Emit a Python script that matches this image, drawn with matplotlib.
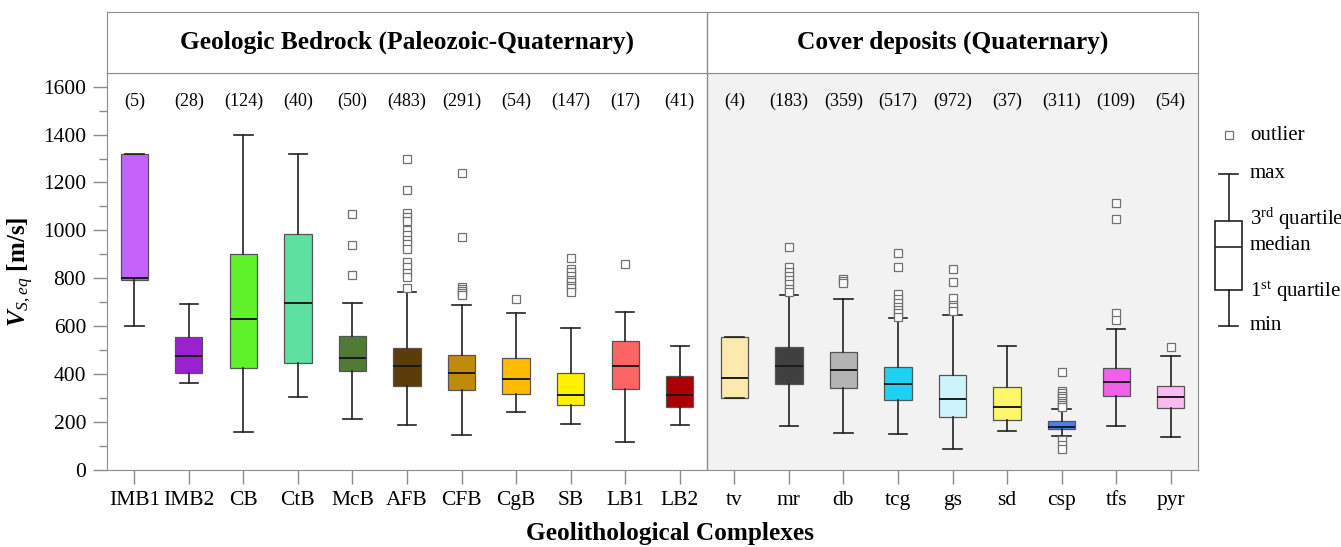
import matplotlib
matplotlib.use("Agg")
import matplotlib.pyplot as plt
import numpy as np

plt.rcParams['font.family'] = 'Liberation Serif'
plt.rcParams['mathtext.fontset'] = 'custom'
plt.rcParams['mathtext.rm'] = 'Liberation Serif'
plt.rcParams['mathtext.it'] = 'Liberation Serif:italic'
plt.rcParams['mathtext.bf'] = 'Liberation Serif:bold'
plt.rcParams['mathtext.bfit'] = 'Liberation Serif:bold:italic'

# data
cats = ['IMB1', 'IMB2', 'CB', 'CtB', 'McB', 'AFB', 'CFB', 'CgB', 'SB', 'LB1', 'LB2',
        'tv', 'mr', 'db', 'tcg', 'gs', 'sd', 'csp', 'tfs', 'pyr']
counts = [5, 28, 124, 40, 50, 483, 291, 54, 147, 17, 41,
          4, 183, 359, 517, 972, 37, 311, 109, 54]
v_min = [600, 363, 160, 305, 213, 186, 147, 242, 192, 115, 188,
         299, 185, 156, 152, 89, 164, 142, 184, 139]
v_q1 = [793, 403, 424, 445, 415, 349, 334, 316, 270, 339, 264,
        299, 359, 344, 292, 223, 209, 170, 310, 260]
v_med = [800, 476, 629, 696, 466, 435, 403, 381, 314, 433, 314,
         384, 435, 416, 358, 298, 264, 178, 369, 306]
v_q3 = [1318, 556, 902, 984, 559, 508, 481, 469, 406, 537, 391,
        556, 512, 492, 428, 398, 345, 205, 424, 349]
v_max = [1318, 693, 1398, 1319, 697, 744, 687, 655, 594, 661, 516,
         556, 732, 714, 633, 647, 516, 255, 590, 477]
outliers = [
    [], [], [], [],
    [1070, 940, 814],
    [1300, 1169, 1074, 1055, 1041, 1002, 981, 960, 942, 924, 867, 846, 824, 804, 761],
    [1241, 971, 765, 757, 748, 738, 730],
    [712],
    [885, 839, 826, 810, 795, 783, 770, 758, 742],
    [861],
    [],
    [],
    [929, 849, 828, 811, 793, 775, 757, 744],
    [798, 788, 779],
    [907, 846, 733, 712, 696, 682, 668, 654, 640],
    [839, 786, 719, 690, 679, 665],
    [],
    [410, 330, 320, 310, 300, 290, 280, 270, 262, 125, 105, 88],
    [1114, 1048, 654, 626],
    [515],
]
colors = ['#c462fa', '#9b20d0', '#5ff22a', '#5de0a0', '#4f7b34', '#5a3d08', '#c08a0a',
          '#ffbb00', '#fff200', '#ff6464', '#aa0000',
          '#fde9ac', '#404040', '#b4b4b4', '#1ed1f5', '#cdf4fb', '#fdf56a', '#4a7ff0',
          '#f060e8', '#fbbaf2']
group_titles = ['Geologic Bedrock (Paleozoic-Quaternary)', 'Cover deposits (Quaternary)']
n_bedrock = 11

fig = plt.figure(figsize=(13.41, 5.47), dpi=100)
L, W = 107/1341, (1198-107)/1341
ax = fig.add_axes([L, (547-470)/547, W, (470-73)/547])
hd = fig.add_axes([L, (547-73)/547, W, (73-12)/547])

frame = '#8c8c8c'
pos = np.arange(len(cats))
stats = []
for i in range(len(cats)):
    stats.append(dict(whislo=v_min[i], q1=v_q1[i], med=v_med[i], q3=v_q3[i],
                      whishi=v_max[i], fliers=outliers[i]))

bp = ax.bxp(stats, positions=pos, widths=0.5, capwidths=0.34, patch_artist=True,
            boxprops=dict(edgecolor='#555555', linewidth=0.9),
            medianprops=dict(color='#1a1a1a', linewidth=1.4),
            whiskerprops=dict(color='#222222', linewidth=1.2),
            capprops=dict(color='#222222', linewidth=1.2),
            flierprops=dict(marker='s', markersize=5.5, markerfacecolor='white',
                            markeredgecolor='#707070', markeredgewidth=0.9, linestyle='none'))
for patch, c in zip(bp['boxes'], colors):
    patch.set_facecolor(c)

ax.axvspan(n_bedrock - 0.5, len(cats) - 0.5, color='#f2f2f2', zorder=0)
ax.axvline(n_bedrock - 0.5, color=frame, lw=1.0, zorder=1)

for i, n in enumerate(counts):
    ax.text(pos[i], 1540, '(%d)' % n, ha='center', va='center', fontsize=13)

ax.set_xlim(-0.5, len(cats) - 0.5)
ax.set_ylim(0, 1657)
ax.set_yticks(np.arange(0, 1601, 200))
ax.set_yticks(np.arange(100, 1600, 200), minor=True)
ax.set_xticks(pos)
ax.set_xticklabels(cats)
ax.tick_params(axis='both', which='major', direction='out', length=10, width=1,
               color=frame, labelsize=15.5, pad=5)
ax.tick_params(axis='y', which='minor', direction='out', length=6, width=1, color=frame)
for s in ax.spines.values():
    s.set_color(frame)
ax.set_ylabel(r'$\mathbfit{V}_{\mathit{S,eq}}$ [m/s]', fontsize=18, fontweight='bold')
ax.yaxis.set_label_coords((36-107)/1091, 0.5)

# header band
hd.set_xlim(-0.5, len(cats) - 0.5)
hd.set_ylim(0, 1)
hd.set_xticks([])
hd.set_yticks([])
for s in hd.spines.values():
    s.set_color(frame)
hd.axvline(n_bedrock - 0.5, color=frame, lw=1.0)
hd.text((n_bedrock - 1) / 2, 0.5, group_titles[0], ha='center', va='center',
        fontsize=18.3, fontweight='bold')
hd.text((n_bedrock + len(cats) - 1) / 2, 0.5, group_titles[1], ha='center', va='center',
        fontsize=18.3, fontweight='bold')

fig.text(670/1341, (547-540)/547, 'Geolithological Complexes', ha='center',
         va='baseline', fontsize=18.2, fontweight='bold')

# legend key drawn in pixel space on the right
lg = fig.add_axes([0, 0, 1, 1], facecolor='none')
lg.set_xlim(0, 1341)
lg.set_ylim(547, 0)
lg.axis('off')
key = dict(whislo=326, q1=290, med=247, q3=221, whishi=174, fliers=[])
lg.bxp([key], positions=[1229], widths=27, capwidths=19, patch_artist=True,
       boxprops=dict(facecolor='white', edgecolor='#222222', linewidth=1.2),
       medianprops=dict(color='#222222', linewidth=1.2),
       whiskerprops=dict(color='#222222', linewidth=1.2),
       capprops=dict(color='#222222', linewidth=1.2))
lg.plot([1229], [135], marker='s', markersize=5.5, mfc='white', mec='#707070', mew=0.9)
leg_labels = [(135, 'outlier'), (174, 'max'), (219, r'3$^{\mathrm{rd}}$ quartile'),
              (246, 'median'), (292, r'1$^{\mathrm{st}}$ quartile'), (325, 'min')]
for yy, t in leg_labels:
    lg.text(1250, yy, t, ha='left', va='center', fontsize=15)

fig.savefig('out.png', dpi=100)
